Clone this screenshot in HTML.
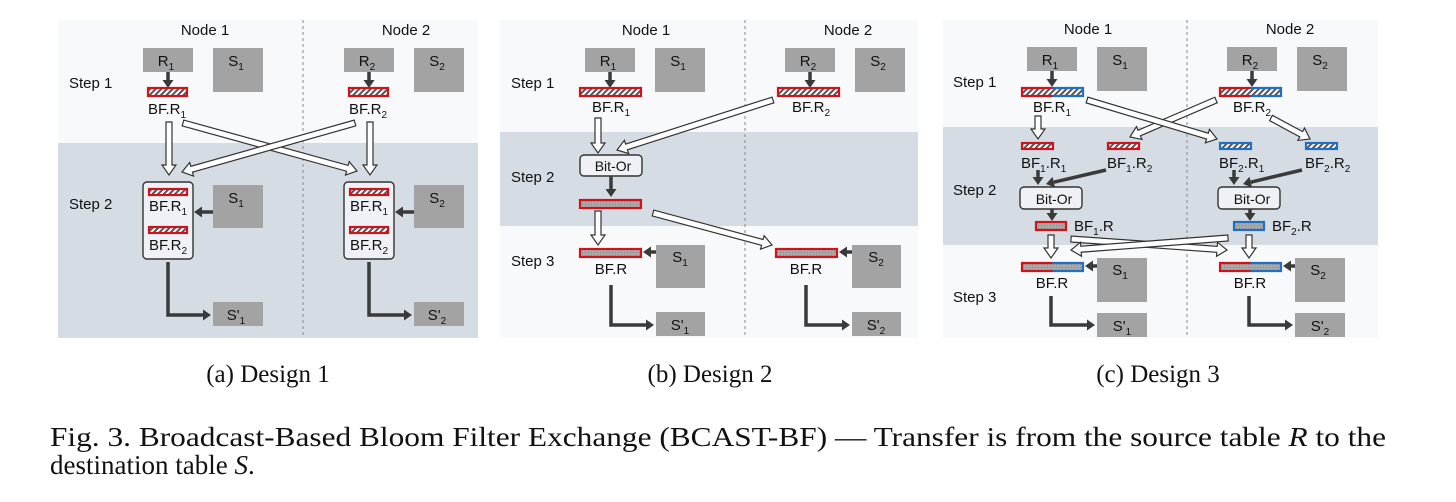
<!DOCTYPE html>
<html><head><meta charset="utf-8"><style>
html,body{margin:0;padding:0;background:#fff;}
svg{display:block;}
.l{font-family:"Liberation Sans",sans-serif;font-size:15px;fill:#111;}
.c{font-family:"Liberation Serif",serif;fill:#111;}
</style></head><body>
<svg id="s" width="1456" height="502" viewBox="0 0 1456 502" xmlns="http://www.w3.org/2000/svg">
<defs>
<pattern id="hr" width="4" height="4" patternUnits="userSpaceOnUse" patternTransform="rotate(45)"><rect width="4" height="4" fill="#fff"/><rect width="2" height="4" fill="#555"/></pattern>
<pattern id="gr" width="3" height="3" patternUnits="userSpaceOnUse"><rect width="3" height="3" fill="#a8a8a8"/><rect width="1" height="1" fill="#888"/></pattern>
</defs>
<rect x="58" y="20" width="420" height="318" fill="#f8f9fa"/>
<rect x="58" y="143" width="420" height="195" fill="#d6dce4"/>
<rect x="500" y="20" width="418" height="318" fill="#f8f9fa"/>
<rect x="500" y="132" width="418" height="94" fill="#d6dce4"/>
<rect x="943" y="20" width="435" height="318" fill="#f8f9fa"/>
<rect x="943" y="127" width="435" height="118" fill="#d6dce4"/>
<line x1="303" y1="20" x2="303" y2="338" stroke="#888" stroke-dasharray="3,3"/>
<line x1="745" y1="20" x2="745" y2="338" stroke="#888" stroke-dasharray="3,3"/>
<line x1="1187" y1="20" x2="1187" y2="338" stroke="#888" stroke-dasharray="3,3"/>
<g id="g"></g>
<g class="l">
<text x="205" y="35" text-anchor="middle">Node 1</text><text x="406" y="35" text-anchor="middle">Node 2</text>
<text x="69" y="88">Step 1</text><text x="69" y="209">Step 2</text>
<text x="166" y="66" text-anchor="middle">R<tspan font-size="10" dy="4">1</tspan></text>
<text x="236" y="66" text-anchor="middle">S<tspan font-size="10" dy="4">1</tspan></text>
<text x="367" y="66" text-anchor="middle">R<tspan font-size="10" dy="4">2</tspan></text>
<text x="437" y="66" text-anchor="middle">S<tspan font-size="10" dy="4">2</tspan></text>
<text x="167" y="114" text-anchor="middle">BF.R<tspan font-size="10" dy="4">1</tspan></text>
<text x="368" y="114" text-anchor="middle">BF.R<tspan font-size="10" dy="4">2</tspan></text>
<text x="168" y="211" text-anchor="middle">BF.R<tspan font-size="10" dy="4">1</tspan></text>
<text x="168" y="250" text-anchor="middle">BF.R<tspan font-size="10" dy="4">2</tspan></text>
<text x="369" y="211" text-anchor="middle">BF.R<tspan font-size="10" dy="4">1</tspan></text>
<text x="369" y="250" text-anchor="middle">BF.R<tspan font-size="10" dy="4">2</tspan></text>
<text x="236" y="203" text-anchor="middle">S<tspan font-size="10" dy="4">1</tspan></text>
<text x="437" y="203" text-anchor="middle">S<tspan font-size="10" dy="4">2</tspan></text>
<text x="236" y="320" text-anchor="middle">S'<tspan font-size="10" dy="4">1</tspan></text>
<text x="437" y="320" text-anchor="middle">S'<tspan font-size="10" dy="4">2</tspan></text>
<text x="646" y="35" text-anchor="middle">Node 1</text><text x="848" y="35" text-anchor="middle">Node 2</text>
<text x="511" y="88">Step 1</text><text x="511" y="182">Step 2</text><text x="511" y="266">Step 3</text>
<text x="608" y="66" text-anchor="middle">R<tspan font-size="10" dy="4">1</tspan></text>
<text x="678" y="66" text-anchor="middle">S<tspan font-size="10" dy="4">1</tspan></text>
<text x="808" y="66" text-anchor="middle">R<tspan font-size="10" dy="4">2</tspan></text>
<text x="878" y="66" text-anchor="middle">S<tspan font-size="10" dy="4">2</tspan></text>
<text x="611" y="112" text-anchor="middle">BF.R<tspan font-size="10" dy="4">1</tspan></text>
<text x="811" y="112" text-anchor="middle">BF.R<tspan font-size="10" dy="4">2</tspan></text>
<text x="613" y="171" text-anchor="middle" font-size="14">Bit-Or</text>
<text x="611" y="274" text-anchor="middle">BF.R</text>
<text x="806" y="274" text-anchor="middle">BF.R</text>
<text x="680" y="262" text-anchor="middle">S<tspan font-size="10" dy="4">1</tspan></text>
<text x="876" y="262" text-anchor="middle">S<tspan font-size="10" dy="4">2</tspan></text>
<text x="680" y="330" text-anchor="middle">S'<tspan font-size="10" dy="4">1</tspan></text>
<text x="876" y="330" text-anchor="middle">S'<tspan font-size="10" dy="4">2</tspan></text>
<text x="1088" y="34" text-anchor="middle">Node 1</text><text x="1290" y="34" text-anchor="middle">Node 2</text>
<text x="953" y="87">Step 1</text><text x="953" y="195">Step 2</text><text x="953" y="302">Step 3</text>
<text x="1050" y="65" text-anchor="middle">R<tspan font-size="10" dy="4">1</tspan></text>
<text x="1120" y="65" text-anchor="middle">S<tspan font-size="10" dy="4">1</tspan></text>
<text x="1250" y="65" text-anchor="middle">R<tspan font-size="10" dy="4">2</tspan></text>
<text x="1320" y="65" text-anchor="middle">S<tspan font-size="10" dy="4">2</tspan></text>
<text x="1052" y="112" text-anchor="middle">BF.R<tspan font-size="10" dy="4">1</tspan></text>
<text x="1252" y="112" text-anchor="middle">BF.R<tspan font-size="10" dy="4">2</tspan></text>
<text x="1021" y="168">BF<tspan font-size="10" dy="4">1</tspan><tspan dy="-4">.R</tspan><tspan font-size="10" dy="4">1</tspan></text>
<text x="1107" y="168">BF<tspan font-size="10" dy="4">1</tspan><tspan dy="-4">.R</tspan><tspan font-size="10" dy="4">2</tspan></text>
<text x="1219" y="168">BF<tspan font-size="10" dy="4">2</tspan><tspan dy="-4">.R</tspan><tspan font-size="10" dy="4">1</tspan></text>
<text x="1305" y="168">BF<tspan font-size="10" dy="4">2</tspan><tspan dy="-4">.R</tspan><tspan font-size="10" dy="4">2</tspan></text>
<text x="1054" y="204" text-anchor="middle" font-size="14">Bit-Or</text>
<text x="1252" y="204" text-anchor="middle" font-size="14">Bit-Or</text>
<text x="1074" y="231">BF<tspan font-size="10" dy="4">1</tspan><tspan dy="-4">.R</tspan></text>
<text x="1272" y="231">BF<tspan font-size="10" dy="4">2</tspan><tspan dy="-4">.R</tspan></text>
<text x="1052" y="288" text-anchor="middle">BF.R</text>
<text x="1250" y="288" text-anchor="middle">BF.R</text>
<text x="1120" y="275" text-anchor="middle">S<tspan font-size="10" dy="4">1</tspan></text>
<text x="1318" y="275" text-anchor="middle">S<tspan font-size="10" dy="4">2</tspan></text>
<text x="1122" y="331" text-anchor="middle">S'<tspan font-size="10" dy="4">1</tspan></text>
<text x="1320" y="331" text-anchor="middle">S'<tspan font-size="10" dy="4">2</tspan></text>
</g>
<g class="c" font-size="25">
<text x="268" y="382" text-anchor="middle">(a) Design 1</text>
<text x="710" y="382" text-anchor="middle">(b) Design 2</text>
<text x="1158" y="382" text-anchor="middle">(c) Design 3</text>
</g>
<g class="c" font-size="27">
<text x="50" y="446" textLength="1336" lengthAdjust="spacingAndGlyphs">Fig. 3.  Broadcast-Based Bloom Filter Exchange (BCAST-BF) — Transfer is from the source table <tspan font-style="italic">R</tspan> to the</text>
<text x="50" y="474">destination table <tspan font-style="italic">S</tspan>.</text>
</g>
</svg>
<script>
var NS="http://www.w3.org/2000/svg",G=document.getElementById("g");
function el(t,a){var e=document.createElementNS(NS,t);for(var k in a)e.setAttribute(k,a[k]);G.appendChild(e);return e;}
function box(x,y,w,h){el("rect",{x:x,y:y,width:w,height:h,fill:"#a3a3a3"});}
function bar(x,y,w,h,k){
 var fill=k[0]=="g"?"url(#gr)":"url(#hr)";var c=k.slice(1);
 el("rect",{x:x,y:y,width:w,height:h,fill:fill});
 var R="#d0121b",B="#1f6fc6";
 if(c=="r"||c=="b"){el("rect",{x:x+1,y:y+1,width:w-2,height:h-2,fill:"none",stroke:c=="r"?R:B,"stroke-width":2.2});}
 else{var m=w/2;el("path",{d:"M"+(x+m)+","+(y+1)+"H"+(x+1)+"V"+(y+h-1)+"H"+(x+m),fill:"none",stroke:R,"stroke-width":2.2});
  el("path",{d:"M"+(x+m)+","+(y+1)+"H"+(x+w-1)+"V"+(y+h-1)+"H"+(x+m),fill:"none",stroke:B,"stroke-width":2.2});}
}
function hol(x1,y1,x2,y2){var dx=x2-x1,dy=y2-y1,L=Math.hypot(dx,dy),ux=dx/L,uy=dy/L,px=-uy,py=ux,sw=3,hw=7,hl=10;
 var bx=x2-ux*hl,by=y2-uy*hl;
 var p=[[x1+px*sw,y1+py*sw],[bx+px*sw,by+py*sw],[bx+px*hw,by+py*hw],[x2,y2],[bx-px*hw,by-py*hw],[bx-px*sw,by-py*sw],[x1-px*sw,y1-py*sw]];
 el("polygon",{points:p.map(function(q){return q.join(",")}).join(" "),fill:"#fff",stroke:"#333","stroke-width":1.2});}
function dark(pts){var n=pts.length,a=pts[n-2],b=pts[n-1],dx=b[0]-a[0],dy=b[1]-a[1],L=Math.hypot(dx,dy),ux=dx/L,uy=dy/L,hl=8,hw=5.5;
 var bx=b[0]-ux*hl,by=b[1]-uy*hl;var q=pts.slice(0,n-1).concat([[bx,by]]);
 el("polyline",{points:q.map(function(v){return v.join(",")}).join(" "),fill:"none",stroke:"#3a3a3a","stroke-width":3.5});
 el("polygon",{points:[b,[bx-uy*hw,by+ux*hw],[bx+uy*hw,by-ux*hw]].map(function(v){return v.join(",")}).join(" "),fill:"#3a3a3a"});}
function rbox(x,y,w,h,f){el("rect",{x:x,y:y,width:w,height:h,rx:4,fill:f||"#eef1f5",stroke:"#333","stroke-width":1.4});}
[0,201].forEach(function(n){
 box(143+n,48,50,24);box(213+n,48,50,44);dark([[168+n,72],[168+n,88]]);bar(147+n,87,41,10,"hr");
 hol(169+n,122,169+n,175);
 rbox(143+n,182,50,77);bar(148+n,188,40,8,"hr");bar(148+n,226,40,8,"hr");
 box(213+n,185,50,43);dark([[213+n,212],[194+n,212]]);
 dark([[168+n,262],[168+n,315],[211+n,315]]);box(213+n,302,50,24);
});
hol(183,123,357,171);hol(355,123,182,172);
[0,200].forEach(function(n){
 box(585+n,48,50,24);box(655+n,48,50,44);dark([[610+n,72],[610+n,88]]);bar(579+n-(n?2:0),87,63,10,"hr");
});
hol(598,118,598,153);hol(773,100,617,150);
rbox(580,155,62,21);dark([[611,176],[611,197]]);bar(579,199,63,10,"gr");
hol(598,211,598,245);hol(653,213,772,245);
bar(579,248,63,10,"gr");box(656,245,49,43);dark([[656,252],[643,252]]);
bar(775,248,63,10,"gr");box(852,245,49,43);dark([[852,252],[839,252]]);
dark([[611,285],[611,325],[654,325]]);box(656,312,49,24);
dark([[806,285],[806,325],[850,325]]);box(852,312,49,24);
[0,200].forEach(function(n){
 box(1027+n,47,50,24);box(1097+n,47,50,44);dark([[1052+n,71],[1052+n,87]]);bar(1021+n-(n?2:0),87,63,10,"hrb");
});
bar(1021,142,33,8,"hr");bar(1107,142,33,8,"hr");bar(1219,142,33,8,"hb");bar(1305,142,33,8,"hb");
hol(1038,116,1038,139);hol(1216,100,1130,137);hol(1087,100,1217,139);hol(1271,118,1310,139);
dark([[1038,170],[1038,185]]);dark([[1106,170],[1046,184]]);
dark([[1234,170],[1234,185]]);dark([[1302,170],[1243,184]]);
rbox(1020,187,62,22);rbox(1218,187,62,22);
dark([[1052,209],[1052,221]]);dark([[1250,209],[1250,221]]);
bar(1035,221,32,10,"gr");bar(1233,221,32,10,"gb");
hol(1051,235,1051,258);hol(1249,235,1249,258);
hol(1071,239,1227,250);hol(1228,238,1071,250);
bar(1021,262,63,10,"grb");bar(1219,262,63,10,"grb");
box(1097,258,50,44);box(1295,258,50,44);
dark([[1097,266],[1085,266]]);dark([[1295,266],[1283,266]]);
dark([[1051,296],[1051,325],[1095,325]]);box(1097,313,50,24);
dark([[1249,296],[1249,325],[1293,325]]);box(1295,313,50,24);
</script>
</body></html>
